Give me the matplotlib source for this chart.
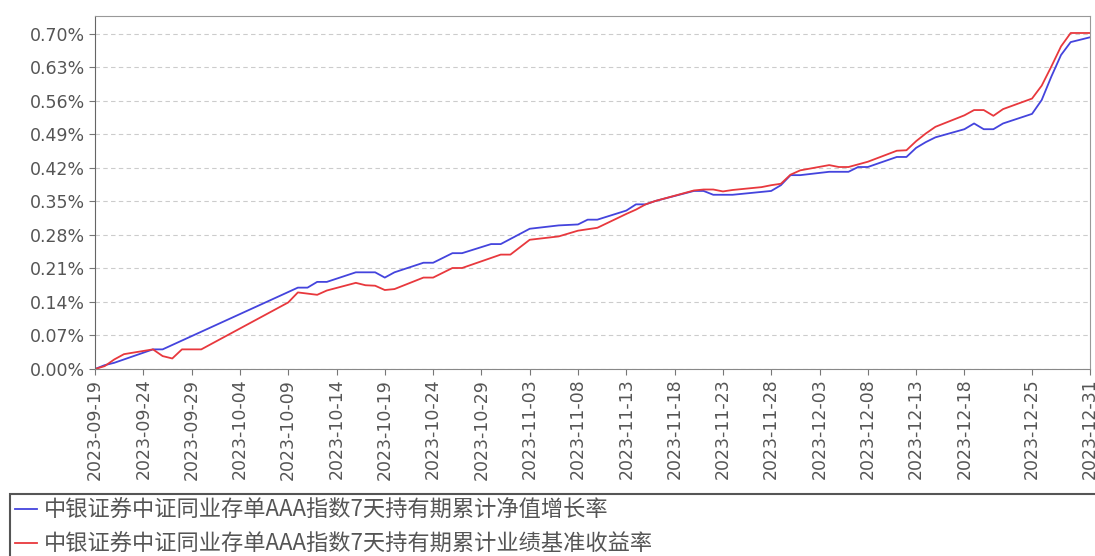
import matplotlib
matplotlib.use("Agg")
import matplotlib.pyplot as plt
from matplotlib.patches import Rectangle
import pandas as pd

plt.rcParams['font.family'] = ['Noto Sans CJK SC', 'DejaVu Sans']

nav_dates = ["2023-09-19", "2023-09-20", "2023-09-21", "2023-09-22", "2023-09-25", "2023-09-26",
             "2023-10-10", "2023-10-11", "2023-10-12", "2023-10-13", "2023-10-16", "2023-10-18",
             "2023-10-19", "2023-10-20", "2023-10-23", "2023-10-24", "2023-10-26", "2023-10-27",
             "2023-10-30", "2023-10-31", "2023-11-03", "2023-11-06", "2023-11-08", "2023-11-09",
             "2023-11-10", "2023-11-13", "2023-11-14", "2023-11-15", "2023-11-16", "2023-11-20",
             "2023-11-21", "2023-11-22", "2023-11-24", "2023-11-27", "2023-11-28", "2023-11-29",
             "2023-11-30", "2023-12-01", "2023-12-04", "2023-12-06", "2023-12-07", "2023-12-08",
             "2023-12-11", "2023-12-12", "2023-12-13", "2023-12-14", "2023-12-15", "2023-12-18",
             "2023-12-19", "2023-12-20", "2023-12-21", "2023-12-22", "2023-12-25", "2023-12-26",
             "2023-12-27", "2023-12-28", "2023-12-29", "2023-12-31"]
nav_growth = [0.000, 0.008, 0.013, 0.020, 0.041, 0.041,
              0.170, 0.170, 0.182, 0.182, 0.202, 0.202,
              0.191, 0.202, 0.222, 0.222, 0.242, 0.242,
              0.261, 0.261, 0.293, 0.300, 0.302, 0.312,
              0.312, 0.331, 0.344, 0.344, 0.351, 0.372,
              0.372, 0.364, 0.364, 0.370, 0.372, 0.384,
              0.405, 0.405, 0.412, 0.412, 0.422, 0.422,
              0.443, 0.443, 0.462, 0.474, 0.484, 0.501,
              0.513, 0.501, 0.501, 0.513, 0.533, 0.562,
              0.611, 0.656, 0.683, 0.693]

bench_dates = ["2023-09-19", "2023-09-20", "2023-09-21", "2023-09-22", "2023-09-25", "2023-09-26",
               "2023-09-27", "2023-09-28", "2023-09-30", "2023-10-09", "2023-10-10", "2023-10-12",
               "2023-10-13", "2023-10-16", "2023-10-17", "2023-10-18", "2023-10-19", "2023-10-20",
               "2023-10-23", "2023-10-24", "2023-10-26", "2023-10-27", "2023-10-31", "2023-11-01",
               "2023-11-03", "2023-11-06", "2023-11-08", "2023-11-10", "2023-11-13", "2023-11-14",
               "2023-11-15", "2023-11-16", "2023-11-20", "2023-11-21", "2023-11-22", "2023-11-23",
               "2023-11-24", "2023-11-27", "2023-11-28", "2023-11-29", "2023-11-30", "2023-12-01",
               "2023-12-04", "2023-12-05", "2023-12-06", "2023-12-08", "2023-12-11", "2023-12-12",
               "2023-12-13", "2023-12-14", "2023-12-15", "2023-12-18", "2023-12-19", "2023-12-20",
               "2023-12-21", "2023-12-22", "2023-12-25", "2023-12-26", "2023-12-27", "2023-12-28",
               "2023-12-29", "2023-12-31"]
bench_return = [0.000, 0.006, 0.020, 0.031, 0.041, 0.027,
                0.022, 0.041, 0.041, 0.139, 0.160, 0.155,
                0.164, 0.180, 0.175, 0.174, 0.165, 0.167,
                0.191, 0.191, 0.211, 0.211, 0.239, 0.239,
                0.270, 0.277, 0.289, 0.295, 0.324, 0.333,
                0.344, 0.351, 0.373, 0.375, 0.375, 0.371,
                0.374, 0.380, 0.384, 0.387, 0.406, 0.415,
                0.426, 0.422, 0.422, 0.433, 0.456, 0.457,
                0.476, 0.492, 0.506, 0.530, 0.541, 0.541,
                0.529, 0.543, 0.565, 0.592, 0.632, 0.674,
                0.702, 0.702]

series_names = ["中银证券中证同业存单AAA指数7天持有期累计净值增长率",
                "中银证券中证同业存单AAA指数7天持有期累计业绩基准收益率"]
y_ticks = [0.00, 0.07, 0.14, 0.21, 0.28, 0.35, 0.42, 0.49, 0.56, 0.63, 0.70]
x_tick_labels = ["2023-09-19", "2023-09-24", "2023-09-29", "2023-10-04", "2023-10-09", "2023-10-14",
                 "2023-10-19", "2023-10-24", "2023-10-29", "2023-11-03", "2023-11-08", "2023-11-13",
                 "2023-11-18", "2023-11-23", "2023-11-28", "2023-12-03", "2023-12-08", "2023-12-13",
                 "2023-12-18", "2023-12-25", "2023-12-31"]

text_color = "#555555"
fig = plt.figure(figsize=(10.95, 5.56), dpi=100)
ax = fig.add_axes([95/1095, (556-369)/556, (1090-95)/1095, (369-16)/556])

l1, = ax.plot(pd.to_datetime(nav_dates), nav_growth, color="#4444dd", lw=1.3)
l2, = ax.plot(pd.to_datetime(bench_dates), bench_return, color="#e8383d", lw=1.3)

ax.set_xlim(pd.Timestamp("2023-09-19"), pd.Timestamp("2023-12-31"))
ax.set_ylim(0, 0.7375)
ax.set_yticks(y_ticks)
ax.set_yticklabels([f"{v:.2f}%" for v in y_ticks], family="DejaVu Sans", fontsize=12.5, color=text_color)
ax.set_xticks(pd.to_datetime(x_tick_labels))
ax.set_xticklabels(x_tick_labels, rotation=90, family="DejaVu Sans", fontsize=12.5, color=text_color)
ax.tick_params(axis="both", direction="out", length=4, color="#777777", pad=3)
ax.grid(axis="y", linestyle=(0, (4, 3)), color="#cccccc", lw=0.8)
ax.set_axisbelow(True)
for s in ax.spines.values():
    s.set_color("#999999")
ax.spines["left"].set_color("#666666")
ax.spines["bottom"].set_color("#888888")

fig.patches.append(Rectangle((10/1095, -0.05), 1.2, (556-494)/556 + 0.05, transform=fig.transFigure,
                             fill=False, edgecolor="#555555", lw=1.5))
fig.legend([l1, l2], series_names, loc="upper left", bbox_to_anchor=(11/1095, (556-494)/556),
           frameon=False, fontsize=16, labelcolor=text_color, handlelength=0.95, handletextpad=0.35,
           borderaxespad=0, labelspacing=0.5, borderpad=0.2)

fig.savefig("out.png", dpi=100)
